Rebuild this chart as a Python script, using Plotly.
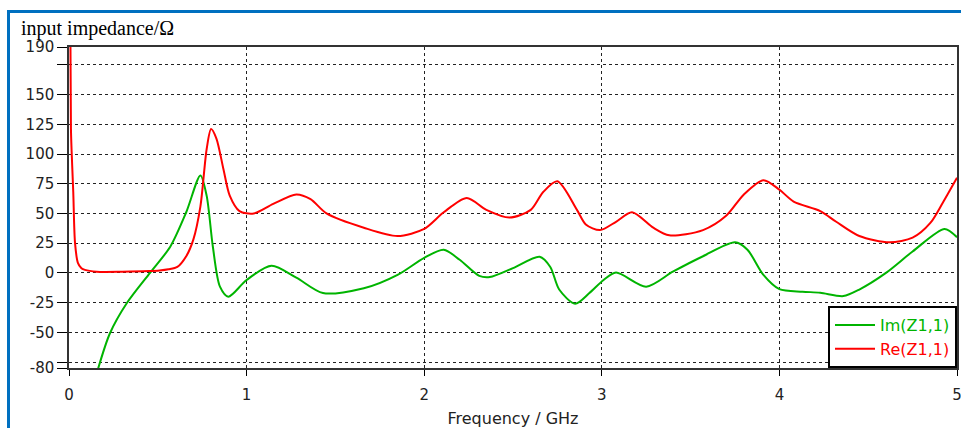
import plotly.graph_objects as go

# Re(Z1,1) - red
re_f = [0.004, 0.011, 0.018, 0.024, 0.034, 0.05, 0.07, 0.09, 0.156, 0.3, 0.45, 0.51, 0.56, 0.61,
        0.66, 0.70, 0.74, 0.775, 0.80, 0.83, 0.87, 0.905, 0.96, 1.04, 1.15, 1.28, 1.36, 1.45,
        1.66, 1.85, 2.0, 2.11, 2.24, 2.35, 2.48, 2.6, 2.67, 2.75, 2.86, 2.91, 2.99, 3.08, 3.17,
        3.29, 3.38, 3.57, 3.70, 3.80, 3.91, 4.0, 4.08, 4.23, 4.32, 4.45, 4.62, 4.75, 4.85, 4.92, 5.0]
re_v = [300, 121, 90, 68, 25, 8.5, 4, 2.5, 1, 1, 1.5, 2, 3, 5,
        14, 28, 56, 104, 121, 113, 87, 65, 52, 50, 58, 66, 62, 50,
        38, 31, 37, 51, 63, 53, 46.5, 53, 68, 77, 53, 40.7, 36, 43, 51,
        38, 31.6, 36, 48, 66, 78, 70, 60, 52, 43, 31, 25.7, 29.6, 42, 59, 80]

# Im(Z1,1) - green
im_f = [0.163, 0.23, 0.325, 0.456, 0.57, 0.66, 0.74, 0.775, 0.81, 0.85, 0.897, 1.0, 1.14, 1.28,
        1.43, 1.66, 1.85, 2.0, 2.11, 2.2, 2.31, 2.37, 2.50, 2.65, 2.71, 2.76, 2.85, 2.93, 3.01,
        3.08, 3.25, 3.40, 3.57, 3.75, 3.82, 3.91, 4.0, 4.13, 4.23, 4.36, 4.45, 4.60, 4.75, 4.93, 5.0]
im_v = [-81, -51, -25.6, 0, 22, 51, 82, 65, 22, -11.6, -20, -6, 6, -4,
        -17, -13, -1.7, 12.7, 19.5, 11, -2.5, -3.5, 4, 13.6, 5, -14, -26, -17, -6,
        0.3, -11.6, 1, 14, 25.7, 19.5, -1.7, -13.7, -15.8, -16.7, -19.5, -14, 0, 18, 37, 30]

y_tickvals = [-80, -75, -50, -25, 0, 25, 50, 75, 100, 125, 150, 175, 190]
y_ticktext = ["-80", "", "-50", "-25", "0", "25", "50", "75", "100", "125", "150", "", "190"]
x_tickvals = [0, 1, 2, 3, 4, 5]

GREEN = "#00B400"
RED = "#FF0000"

fig = go.Figure()
fig.add_trace(go.Scatter(x=im_f, y=im_v, mode="lines",
                         name="<span style='color:%s'>Im(Z1,1)</span>" % GREEN,
                         line=dict(color=GREEN, width=2, shape="spline", smoothing=0.8)))
fig.add_trace(go.Scatter(x=re_f, y=re_v, mode="lines",
                         name="<span style='color:%s'>Re(Z1,1)</span>" % RED,
                         line=dict(color=RED, width=2, shape="spline", smoothing=0.8)))

W, H = 961, 428
L, R, T, B = 69, 4, 47, 60
pw, ph = W - L - R, H - T - B

def px2x(px):
    return (px - L) / pw

def px2y(py):
    return (H - B - py) / ph

fig.update_layout(
    width=W, height=H,
    margin=dict(l=L, r=R, t=T, b=B, autoexpand=False),
    paper_bgcolor="white", plot_bgcolor="white",
    font=dict(family="DejaVu Sans", size=15, color="#222"),
    showlegend=True,
    legend=dict(x=1, xanchor="right", y=0, yanchor="bottom",
                bgcolor="white", bordercolor="black", borderwidth=2,
                font=dict(family="DejaVu Sans", size=16),
                tracegroupgap=0, itemwidth=40),
    xaxis=dict(range=[0, 5], tickvals=x_tickvals, ticks="outside", ticklen=6,
               tickcolor="black", showline=True, linecolor="#333", linewidth=1.5,
               mirror=True, showgrid=True, gridcolor="#222", griddash="3px,3px",
               gridwidth=1, zeroline=False, automargin=False, ticklabelstandoff=6,
               ticklabeloverflow="allow",
               title=dict(text="Frequency / GHz", font=dict(size=16), standoff=12),
               tickfont=dict(size=15)),
    yaxis=dict(range=[-80, 190], tickvals=y_tickvals, ticktext=y_ticktext,
               ticks="outside", ticklen=10, tickcolor="black", automargin=False,
               showline=True, linecolor="#333", linewidth=1.5, mirror=True,
               showgrid=True, gridcolor="#222", griddash="3px,3px", gridwidth=1,
               zeroline=False, tickfont=dict(size=15), ticklabeloverflow="allow"),
    annotations=[dict(text="input impedance/Ω", xref="paper", yref="paper",
                      x=px2x(19), y=px2y(28), xanchor="left", yanchor="middle",
                      showarrow=False,
                      font=dict(family="Liberation Serif", size=20, color="black"))],
    shapes=[
        dict(type="line", xref="paper", yref="paper", x0=px2x(8), x1=px2x(961),
             y0=px2y(11.5), y1=px2y(11.5), line=dict(color="#0070C0", width=3)),
        dict(type="line", xref="paper", yref="paper", x0=px2x(8.5), x1=px2x(8.5),
             y0=px2y(10), y1=px2y(428), line=dict(color="#0070C0", width=3)),
    ],
)

fig.write_html("out.html")
